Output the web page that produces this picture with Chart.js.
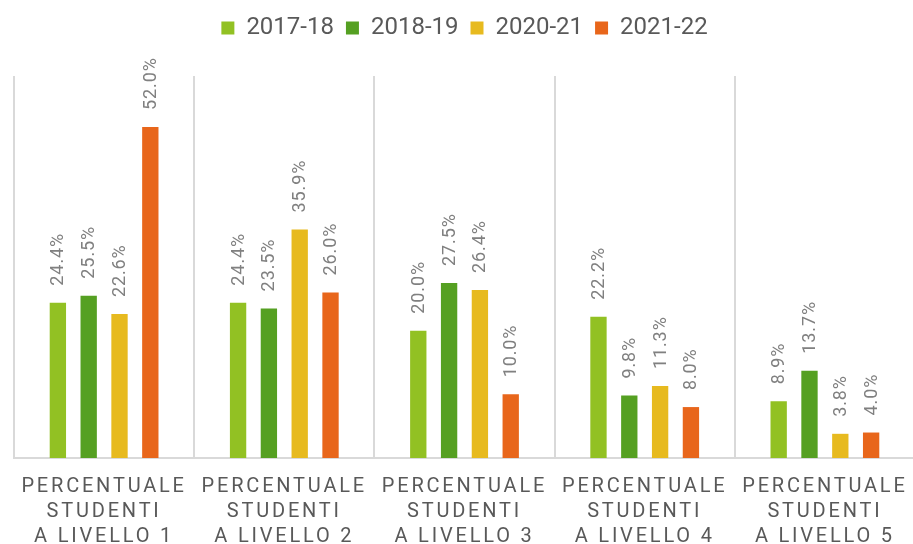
<!DOCTYPE html>
<html>
<head>
<meta charset="utf-8">
<script src="https://cdn.jsdelivr.net/npm/chart.js@4/dist/chart.umd.min.js"></script>
<style>
  html, body { margin: 0; padding: 0; background: #fff; overflow: hidden; }
  #chart { display: block; }
</style>
</head>
<body>
<canvas id="chart" width="916" height="544"></canvas>
<script>
const categories = [
  ['PERCENTUALE', 'STUDENTI', 'A LIVELLO 1'],
  ['PERCENTUALE', 'STUDENTI', 'A LIVELLO 2'],
  ['PERCENTUALE', 'STUDENTI', 'A LIVELLO 3'],
  ['PERCENTUALE', 'STUDENTI', 'A LIVELLO 4'],
  ['PERCENTUALE', 'STUDENTI', 'A LIVELLO 5']
];
const seriesNames = ['2017-18', '2018-19', '2020-21', '2021-22'];
const values1718 = [24.4, 24.4, 20.0, 22.2, 8.9];
const values1819 = [25.5, 23.5, 27.5, 9.8, 13.7];
const values2021 = [22.6, 35.9, 26.4, 11.3, 3.8];
const values2122 = [52.0, 26.0, 10.0, 8.0, 4.0];
const seriesColors = ['#92C123', '#55A022', '#E7BA1F', '#E8661B'];

const FONT = 'Roboto, "Open Sans", sans-serif';

// value labels above bars, then letter spacing for the x tick labels (ticks drawn at z 1)
const valueLabels = {
  id: 'valueLabels',
  beforeDraw(chart) {
    chart.ctx.letterSpacing = '0px';
  },
  afterDatasetsDraw(chart) {
    const ctx = chart.ctx;
    ctx.save();
    ctx.letterSpacing = '0.9px';
    ctx.font = '18px ' + FONT;
    ctx.fillStyle = '#808080';
    ctx.textAlign = 'left';
    ctx.textBaseline = 'middle';
    chart.data.datasets.forEach((ds, di) => {
      chart.getDatasetMeta(di).data.forEach((bar, i) => {
        ctx.save();
        ctx.translate(bar.x, bar.y - 17);
        ctx.rotate(-Math.PI / 2);
        ctx.fillText(ds.data[i].toFixed(1) + '%', 0, 1);
        ctx.restore();
      });
    });
    ctx.restore();
    ctx.letterSpacing = '2.8px';
  },
  afterDraw(chart) {
    chart.ctx.letterSpacing = '0px';
  }
};

// push the plot area down below the legend
const legendGap = {
  id: 'legendGap',
  beforeLayout(chart) {
    const lg = chart.legend;
    if (lg && !lg._gapPatched) {
      const fit = lg.fit;
      lg.fit = function () {
        fit.call(this);
        this.height = 72;
      };
      lg._gapPatched = true;
    }
  }
};

new Chart(document.getElementById('chart'), {
  type: 'bar',
  data: {
    labels: categories,
    datasets: [
      { label: seriesNames[0], data: values1718, backgroundColor: seriesColors[0], borderWidth: 0 },
      { label: seriesNames[1], data: values1819, backgroundColor: seriesColors[1], borderWidth: 0 },
      { label: seriesNames[2], data: values2021, backgroundColor: seriesColors[2], borderWidth: 0 },
      { label: seriesNames[3], data: values2122, backgroundColor: seriesColors[3], borderWidth: 0 }
    ]
  },
  options: {
    responsive: false,
    animation: false,
    devicePixelRatio: 1,
    categoryPercentage: 0.684,
    barPercentage: 0.53,
    layout: { padding: { left: 14, right: 1, top: 4, bottom: 0 } },
    plugins: {
      legend: {
        position: 'top',
        labels: {
          boxWidth: 13,
          boxHeight: 13,
          padding: 12,
          color: '#595959',
          font: { family: FONT, size: 24 }
        }
      },
      tooltip: { enabled: false }
    },
    scales: {
      x: {
        grid: { color: '#D9D9D9', lineWidth: 2, drawTicks: false, offset: true },
        border: { display: true, color: '#D9D9D9', width: 2 },
        ticks: {
          z: 1,
          color: '#595959',
          padding: 16,
          maxRotation: 0,
          autoSkip: false,
          font: { family: FONT, size: 20, lineHeight: 1.25 }
        },
        afterFit(scale) { scale.height = 86; }
      },
      y: {
        display: false,
        min: 0,
        max: 60
      }
    }
  },
  plugins: [valueLabels, legendGap]
});
</script>
</body>
</html>
